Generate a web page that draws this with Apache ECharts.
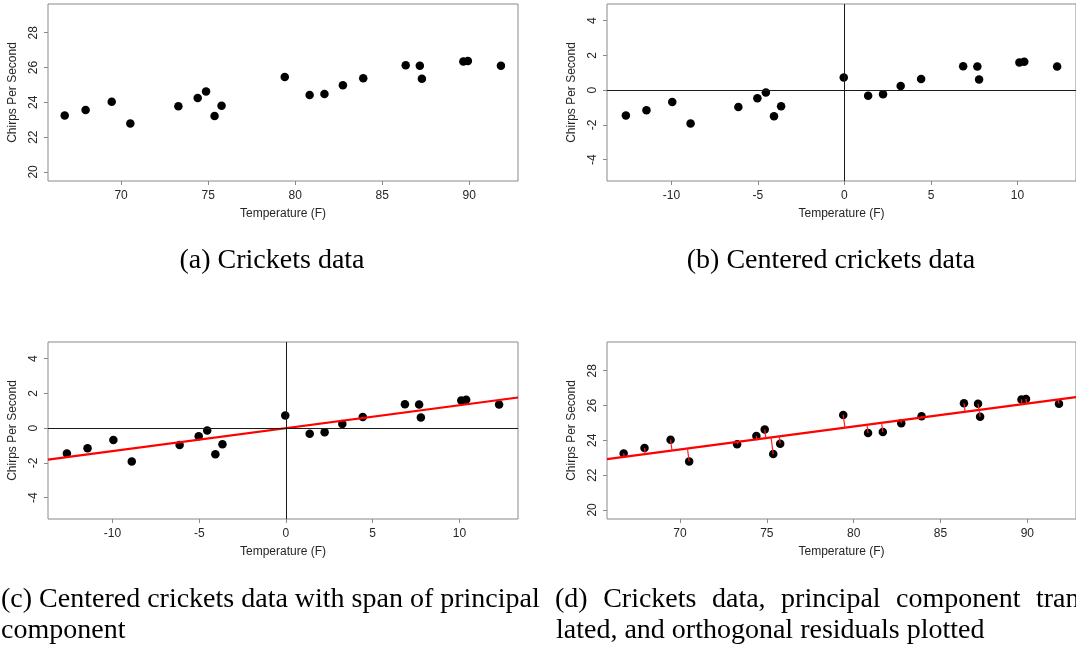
<!DOCTYPE html>
<html><head><meta charset="utf-8">
<script src="https://cdn.jsdelivr.net/npm/echarts@6/dist/echarts.min.js"></script>
<style>html,body{margin:0;padding:0;background:#fff}#c{width:1076px;height:648px}</style>
</head><body><div id="c"></div>
<script>
// Raw crickets data (panels a, d)
const temperature = [66.76,67.96,69.46,70.53,73.29,74.40,74.88,75.37,75.77,79.40,80.83,81.68,82.74,83.91,86.35,87.16,87.28,89.66,89.92,91.82];
const chirps      = [23.25,23.56,24.04,22.79,23.77,24.25,24.62,23.21,23.81,25.46,24.42,24.48,24.98,25.39,26.13,26.10,25.35,26.35,26.38,26.10];
// Centered crickets data (panels b, c)
const centeredTemperature = [-12.63,-11.44,-9.95,-8.89,-6.13,-5.03,-4.54,-4.07,-3.66,-0.04,1.37,2.23,3.25,4.43,6.86,7.68,7.78,10.11,10.39,12.29];
const centeredChirps      = [-1.46,-1.16,-0.68,-1.92,-0.97,-0.47,-0.13,-1.50,-0.93,0.73,-0.32,-0.24,0.24,0.64,1.38,1.36,0.62,1.59,1.63,1.36];
// Principal component direction (slope)
const pcSlope = 0.132;
// Ticks and axis limits
const rawXTicks = [70,75,80,85,90];
const rawYTicks = [20,22,24,26,28];
const cenXTicks = [-10,-5,0,5,10];
const cenYTicks = [-4,-2,0,2,4];
const rawXRange = [65.8, 92.8];
const rawYRange = [19.48, 29.65];
const cenXRange = [-13.72, 13.38];
const cenYRange = [-5.23, 4.96];
const xTitle = 'Temperature (F)';
const yTitle = 'Chirps Per Second';
const captionA = '(a) Crickets data';
const captionB = '(b) Centered crickets data';
const captionC1 = '(c) Centered crickets data with span of principal';
const captionC2 = 'component';
const captionD1Words = ['(d)','Crickets','data,','principal','component','trans-'];
const captionD2 = 'lated, and orthogonal residuals plotted';

const chart = echarts.init(document.getElementById('c'), null, {renderer:'canvas'});
const zip = (a,b) => a.map((v,i)=>[v,b[i]]);
const mean = a => a.reduce((s,v)=>s+v,0)/a.length;
const mx = mean(temperature), my = mean(chirps);

const SANS = '"Liberation Sans", Arial, sans-serif';
const SERIF = '"Liberation Serif", "Times New Roman", serif';
const TXT = '#262626', BOX = '#8a8a8a';
const CAP_SIZE = 28;
const AX_SIZE = 12;

const grids = [
  {left:48, top:4, width:470, height:177},
  {left:607, top:4, width:470, height:177},
  {left:48, top:342, width:470, height:177},
  {left:607, top:342, width:470, height:177}
].map(g => Object.assign(g, {show:true, borderColor:BOX, borderWidth:1, backgroundColor:'transparent', containLabel:false}));

function xAx(i, range, ticks){
  return {type:'value', gridIndex:i, min:range[0], max:range[1],
    name:xTitle, nameLocation:'middle', nameGap:27,
    nameTextStyle:{fontFamily:SANS, fontSize:AX_SIZE, color:TXT},
    axisLine:{show:false, onZero:false},
    axisTick:{show:true, length:4, customValues:ticks, lineStyle:{color:BOX, width:1}},
    axisLabel:{customValues:ticks, margin:8.5, fontFamily:SANS, fontSize:AX_SIZE, color:TXT},
    splitLine:{show:false}};
}
function yAx(i, range, ticks){
  return {type:'value', gridIndex:i, min:range[0], max:range[1],
    name:yTitle, nameLocation:'middle', nameGap:29, nameRotate:90,
    nameTextStyle:{fontFamily:SANS, fontSize:AX_SIZE, color:TXT},
    axisLine:{show:false, onZero:false},
    axisTick:{show:true, length:4, customValues:ticks, lineStyle:{color:BOX, width:1}},
    axisLabel:{customValues:ticks, margin:8.5, rotate:90, fontFamily:SANS, fontSize:AX_SIZE, color:TXT},
    splitLine:{show:false}};
}

const dot = {symbol:'circle', symbolSize:8.5, itemStyle:{color:'#000', opacity:1}, z:2, silent:true};
const crossLines = {silent:true, symbol:['none','none'], label:{show:false}, animation:false,
  lineStyle:{color:'#1a1a1a', width:1, type:'solid'}, data:[{xAxis:0},{yAxis:0}]};

// principal component line endpoints at the axis limits
const cLine = cenXRange.map(x => [x, pcSlope*x]);
const dLine = rawXRange.map(x => [x, my + pcSlope*(x-mx)]);
// orthogonal residuals for panel d
const residuals = temperature.map((x,i)=>{
  const y = chirps[i];
  const t = ((x-mx) + pcSlope*(y-my)) / (1 + pcSlope*pcSlope);
  return {coords:[[x,y],[mx+t, my+pcSlope*t]]};
});

const series = [
  Object.assign({type:'scatter', xAxisIndex:0, yAxisIndex:0, data:zip(temperature, chirps)}, dot),
  Object.assign({type:'scatter', xAxisIndex:1, yAxisIndex:1, data:zip(centeredTemperature, centeredChirps), markLine:crossLines}, dot),
  Object.assign({type:'scatter', xAxisIndex:2, yAxisIndex:2, data:zip(centeredTemperature, centeredChirps), markLine:crossLines}, dot),
  {type:'line', xAxisIndex:2, yAxisIndex:2, data:cLine, showSymbol:false, symbol:'none', silent:true,
    lineStyle:{color:'#ff0000', width:2.2}, z:3},
  Object.assign({type:'scatter', xAxisIndex:3, yAxisIndex:3, data:zip(temperature, chirps)}, dot),
  {type:'line', xAxisIndex:3, yAxisIndex:3, data:dLine, showSymbol:false, symbol:'none', silent:true,
    lineStyle:{color:'#ff0000', width:2.2}, z:3},
  {type:'lines', coordinateSystem:'cartesian2d', xAxisIndex:3, yAxisIndex:3, data:residuals, silent:true,
    lineStyle:{color:'#ff2020', width:1.2, opacity:1}, z:4}
];

// justified first line of caption (d): equal gaps between 555 and the start of the last word at 1036
const mctx = document.createElement('canvas').getContext('2d');
mctx.font = CAP_SIZE + 'px ' + SERIF;
const wW = captionD1Words.map(w => mctx.measureText(w).width);
const dStart = 555, lastStart = 1036;
const used = wW.slice(0,-1).reduce((s,v)=>s+v,0);
const gap = (lastStart - dStart - used) / (captionD1Words.length - 1);
const dWordX = []; let cx = dStart;
captionD1Words.forEach((w,i)=>{ dWordX.push(cx); cx += wW[i] + gap; });

const capStyle = (text, extra) => Object.assign({text, fontFamily:SERIF, fontSize:CAP_SIZE, fill:'#000', verticalAlign:'middle'}, extra||{});
const graphic = [
  {type:'text', x:272, y:261, style:capStyle(captionA, {align:'center'})},
  {type:'text', x:831, y:261, style:capStyle(captionB, {align:'center'})},
  {type:'text', x:1, y:600, style:capStyle(captionC1, {align:'left'})},
  {type:'text', x:1, y:631, style:capStyle(captionC2, {align:'left'})},
  {type:'text', x:556, y:631, style:capStyle(captionD2, {align:'left'})}
].concat(captionD1Words.map((w,i)=>({type:'text', x:dWordX[i], y:600, style:capStyle(w, {align:'left'})})));

chart.setOption({
  animation:false,
  backgroundColor:'#fff',
  grid:grids,
  xAxis:[xAx(0,rawXRange,rawXTicks), xAx(1,cenXRange,cenXTicks), xAx(2,cenXRange,cenXTicks), xAx(3,rawXRange,rawXTicks)],
  yAxis:[yAx(0,rawYRange,rawYTicks), yAx(1,cenYRange,cenYTicks), yAx(2,cenYRange,cenYTicks), yAx(3,rawYRange,rawYTicks)],
  series,
  graphic
});
</script></body></html>
